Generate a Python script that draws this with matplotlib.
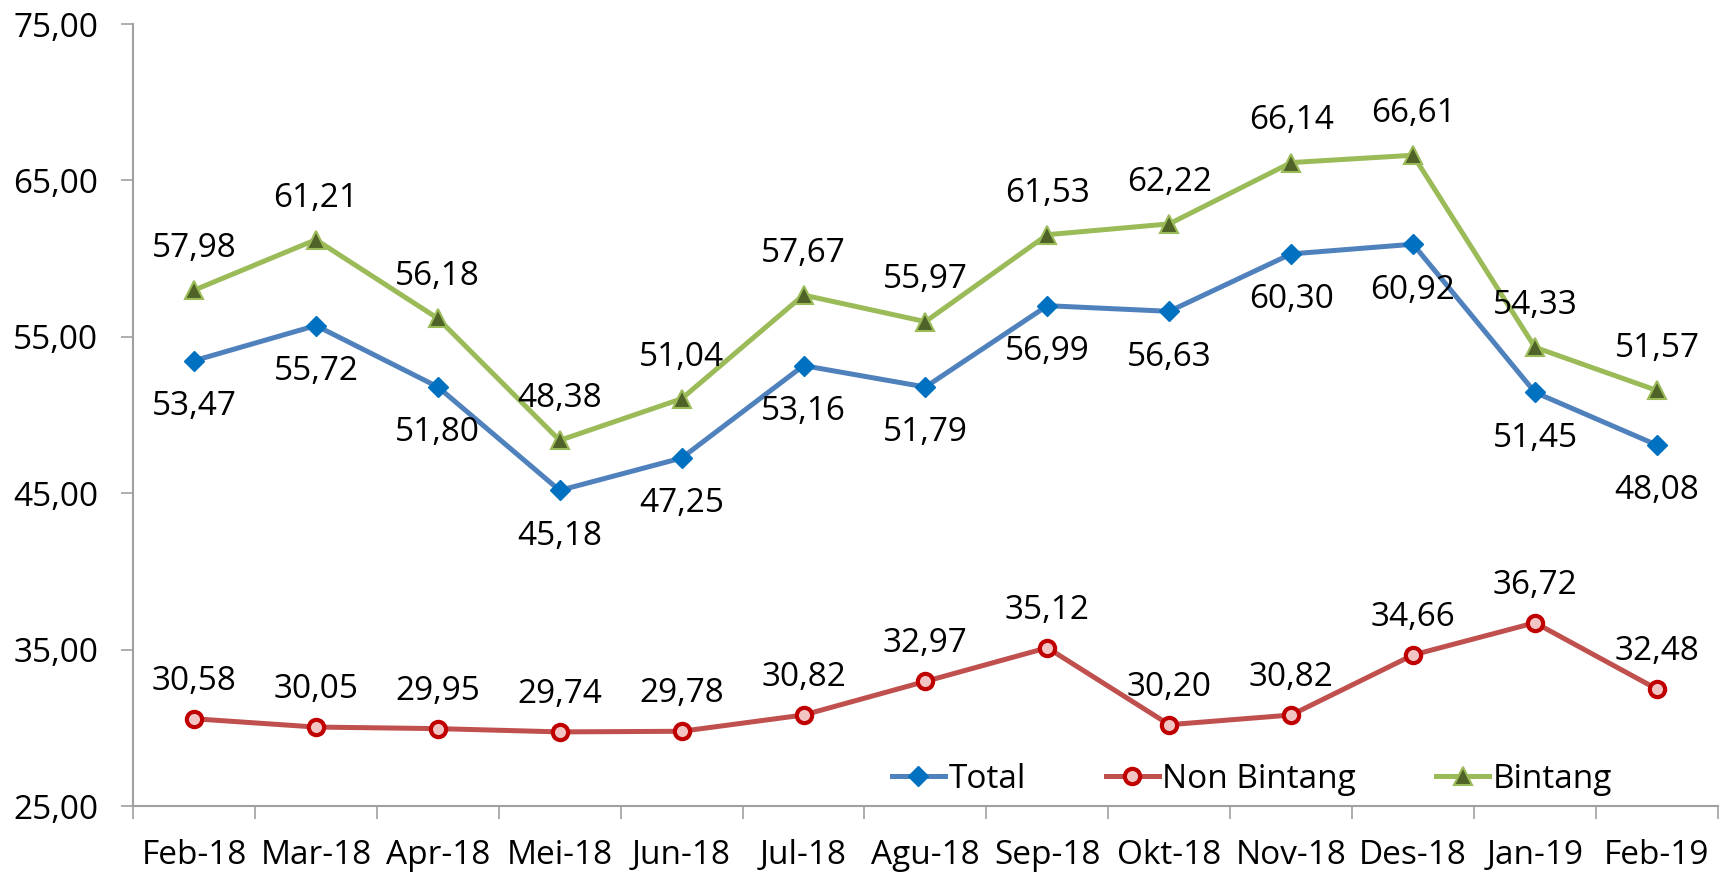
import numpy as np
import matplotlib

matplotlib.use("Agg")
import matplotlib.pyplot as plt

plt.rcParams["font.family"] = ["Open Sans", "DejaVu Sans"]

# Data
months = ["Feb-18", "Mar-18", "Apr-18", "Mei-18", "Jun-18", "Jul-18", "Agu-18",
          "Sep-18", "Okt-18", "Nov-18", "Des-18", "Jan-19", "Feb-19"]
total = [53.47, 55.72, 51.80, 45.18, 47.25, 53.16, 51.79, 56.99, 56.63, 60.30, 60.92, 51.45, 48.08]
non_bintang = [30.58, 30.05, 29.95, 29.74, 29.78, 30.82, 32.97, 35.12, 30.20, 30.82, 34.66, 36.72, 32.48]
bintang = [57.98, 61.21, 56.18, 48.38, 51.04, 57.67, 55.97, 61.53, 62.22, 66.14, 66.61, 54.33, 51.57]
y_ticks = [25, 35, 45, 55, 65, 75]


def fmt(v):
    return f"{v:.2f}".replace(".", ",")


fig = plt.figure(figsize=(17.23, 8.73), dpi=100)
ax = fig.add_axes([0.0772, 0.0767, 0.9198, 0.8958])
x = np.arange(len(months))
fs = 24

ax.plot(x, total, color="#4F81BD", lw=3.6, marker="D", ms=10,
        mfc="#0070C0", mec="#0070C0", label="Total", zorder=3)
ax.plot(x, non_bintang, color="#C0504D", lw=3.6, marker="o", ms=11,
        mfc="#F2C4C4", mec="#C00000", mew=3, label="Non Bintang", zorder=3)
ax.plot(x, bintang, color="#9BBB59", lw=3.6, marker="^", ms=13,
        mfc="#4F6228", mec="#9BBB59", mew=1.5, label="Bintang", zorder=3)

for xi, v in zip(x, total):
    ax.annotate(fmt(v), (xi, v), xytext=(0, -33), textcoords="offset points",
                ha="center", va="center", fontsize=fs)
for xi, v in zip(x, non_bintang):
    ax.annotate(fmt(v), (xi, v), xytext=(0, 27), textcoords="offset points",
                ha="center", va="center", fontsize=fs)
for xi, v in zip(x, bintang):
    ax.annotate(fmt(v), (xi, v), xytext=(0, 30), textcoords="offset points",
                ha="center", va="center", fontsize=fs)

ax.set_xlim(-0.5, len(months) - 0.5)
ax.set_ylim(25, 75)
ax.set_yticks(y_ticks)
ax.set_yticklabels([fmt(v) for v in y_ticks], fontsize=fs)
ax.set_xticks(x)
ax.set_xticklabels(months, fontsize=fs)
ax.set_xticks(np.arange(len(months) + 1) - 0.5, minor=True)
ax.tick_params(axis="x", which="major", length=0, pad=24)
ax.tick_params(axis="x", which="minor", length=9, width=1.2, color="#A0A0A0")
ax.tick_params(axis="y", length=9, width=1.2, color="#A0A0A0", pad=16)

for s in ["top", "right"]:
    ax.spines[s].set_visible(False)
for s in ["left", "bottom"]:
    ax.spines[s].set_color("#A0A0A0")
    ax.spines[s].set_linewidth(1.5)

ax.legend(loc="lower center", bbox_to_anchor=(0.706, -0.025), ncol=3, frameon=False,
          fontsize=fs, handlelength=1.6, handletextpad=0.1, columnspacing=2.4)

fig.savefig("out.png", dpi=100)
